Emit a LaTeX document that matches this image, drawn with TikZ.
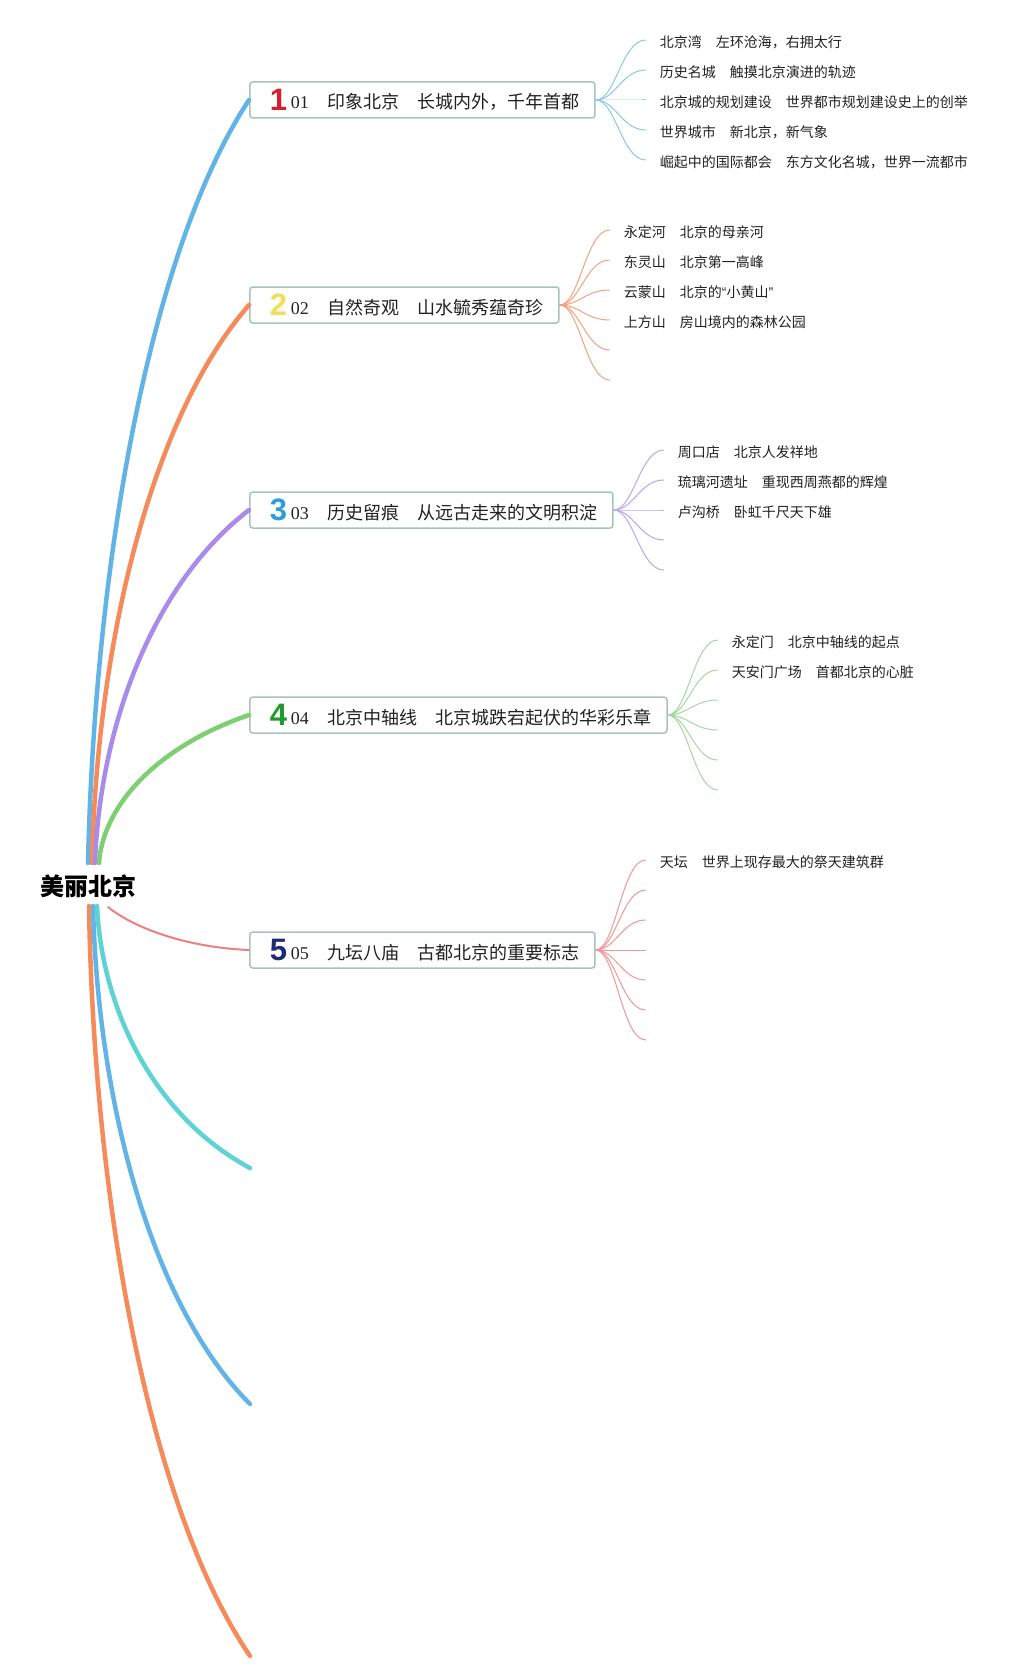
\documentclass[tikz,border=0pt]{standalone}
\usepackage{fontspec}
\setmainfont{Liberation Serif}
\newfontfamily\cjk{Noto Sans CJK SC}
\newfontfamily\numfont{Liberation Sans}
\usetikzlibrary{calc}
\definecolor{bblue}{HTML}{62B4E6}
\definecolor{borange}{HTML}{F58A5B}
\definecolor{bpurple}{HTML}{A88BEB}
\definecolor{bgreen}{HTML}{7ECF72}
\definecolor{bred}{HTML}{EE7F7F}
\definecolor{bcyan}{HTML}{5FD3D3}
\definecolor{fblue}{HTML}{8CC8EC}
\definecolor{forange}{HTML}{F4A27E}
\definecolor{fpurple}{HTML}{BBA6EF}
\definecolor{fgreen}{HTML}{A2DA9C}
\definecolor{fred}{HTML}{F29696}
\definecolor{boxline}{HTML}{A6C4BB}
\definecolor{nred}{HTML}{D81E2C}
\definecolor{nyellow}{HTML}{F3DE55}
\definecolor{nblue}{HTML}{2B9FDC}
\definecolor{ngreen}{HTML}{1F9A2B}
\definecolor{nnavy}{HTML}{1D2A78}
\definecolor{txt}{HTML}{222222}
\tikzset{
  topic/.style={draw=boxline, line width=1.5pt, rounded corners=3pt, fill=white,
    minimum height=36pt, inner xsep=15pt, inner ysep=0pt, anchor=west, text=txt,
    font=\cjk\fontsize{18}{20}\selectfont},
  leaf/.style={anchor=west, inner sep=0pt, text=txt, font=\cjk\fontsize{14}{16}\selectfont},
  branch/.style={line width=4.5pt, line cap=round},
  thinbranch/.style={line width=2pt, line cap=round},
  fanline/.style={line width=1pt},
}
\newcommand\topictext[3]{\hspace{5pt}\raisebox{-1.5pt}{\numfont\bfseries\fontsize{31}{31}\selectfont\color{#1}#2}\hspace{4pt}{\rmfamily\fontsize{18}{20}\selectfont #3}\hspace{19pt}}
\newcommand\myopenq{{\numfont “}}
\newcommand\mycloseq{{\numfont ”}}
% #1 box, #2 colour, #3 list y/label
\newcommand\fanleaf[3]{%
  \foreach \yy/\lab [count=\i] in {#3} {
    \coordinate (#1tmp\i) at (0,\yy);
    \coordinate (#1e\i) at ([xshift=50pt]#1.east |- #1tmp\i);
    \draw[fanline,#2] (#1.east) .. controls +(20,0) and +(-24,0) .. (#1e\i);
    \node[leaf] (#1c\i) at ([xshift=14pt,yshift=-2pt]#1e\i) {\lab};
  }}
% #1 box, #2 colour, #3 list y
\newcommand\fanempty[3]{%
  \foreach \yy [count=\i] in {#3} {
    \coordinate (#1ztmp\i) at (0,\yy);
    \coordinate (#1z\i) at ([xshift=50pt]#1.east |- #1ztmp\i);
    \draw[fanline,#2] (#1.east) .. controls +(20,0) and +(-24,0) .. (#1z\i);
  }}
\begin{document}
\begin{tikzpicture}[x=1pt,y=1pt]
\fill[white] (0,0) rectangle (1029,-1680);
\useasboundingbox (0,0) rectangle (1029,-1680);

\node[font=\cjk\bfseries\fontsize{24}{26}\selectfont, inner sep=0pt] (root) at (88.5,-886) {美丽北京};

\node[topic] (t1) at (249,-100) {\topictext{nred}{1}{01}印象北京　长城内外，千年首都};
\node[topic] (t2) at (249,-305) {\topictext{nyellow}{2}{02}自然奇观　山水毓秀蕴奇珍};
\node[topic] (t3) at (249,-510) {\topictext{nblue}{3}{03}历史留痕　从远古走来的文明积淀};
\node[topic] (t4) at (249,-715) {\topictext{ngreen}{4}{04}北京中轴线　北京城跌宕起伏的华彩乐章};
\node[topic] (t5) at (249,-950) {\topictext{nnavy}{5}{05}九坛八庙　古都北京的重要标志};

% start points of the main branches
\coordinate (s1) at (88,-863);
\coordinate (s2) at (92,-863);
\coordinate (s3) at (95,-863);
\coordinate (s4) at (99,-863);
\coordinate (s5) at (108,-907);
\coordinate (s6) at (97,-906);
\coordinate (s7) at (93,-906);
\coordinate (s8) at (89,-906);
\coordinate (e6) at (250,-1168);
\coordinate (e7) at (250,-1404);
\coordinate (e8) at (250,-1656);

\draw[branch,bblue]   (s1) .. controls (95,-560) and (150,-250) .. (t1.west);
\draw[branch,borange] (s2) .. controls (97,-641) and (152,-416) .. (t2.west);
\draw[branch,bpurple] (s3) .. controls (100,-724) and (154,-583) .. (t3.west);
\draw[branch,bgreen]  (s4) .. controls (103,-806) and (156,-747) .. (t4.west);
\draw[thinbranch,bred] (s5) .. controls (130,-925) and (180,-947) .. (t5.west);
\draw[branch,borange] (s8) .. controls (94,-1207) and (150,-1509) .. (e8);
\draw[branch,bblue]   (s7) .. controls (98,-1106) and (153,-1307) .. (e7);
\draw[branch,bcyan]   (s6) .. controls (102,-1011) and (155,-1117) .. (e6);

\fanleaf{t1}{fblue}{-40/北京湾　左环沧海，右拥太行,-70/历史名城　触摸北京演进的轨迹,-100/北京城的规划建设　世界都市规划建设史上的创举,-130/世界城市　新北京，新气象,-160/崛起中的国际都会　东方文化名城，世界一流都市}

\fanleaf{t2}{forange}{-230/永定河　北京的母亲河,-260/东灵山　北京第一高峰,-290/云蒙山　北京的\myopenq 小黄山\mycloseq,-320/上方山　房山境内的森林公园}
\fanempty{t2}{forange}{-350,-380}

\fanleaf{t3}{fpurple}{-450/周口店　北京人发祥地,-480/琉璃河遗址　重现西周燕都的辉煌,-510/卢沟桥　卧虹千尺天下雄}
\fanempty{t3}{fpurple}{-540,-570}

\fanleaf{t4}{fgreen}{-640/永定门　北京中轴线的起点,-670/天安门广场　首都北京的心脏}
\fanempty{t4}{fgreen}{-700,-730,-760,-790}

\fanleaf{t5}{fred}{-860/天坛　世界上现存最大的祭天建筑群}
\fanempty{t5}{fred}{-890,-920,-950,-980,-1010,-1040}
\end{tikzpicture}
\end{document}
